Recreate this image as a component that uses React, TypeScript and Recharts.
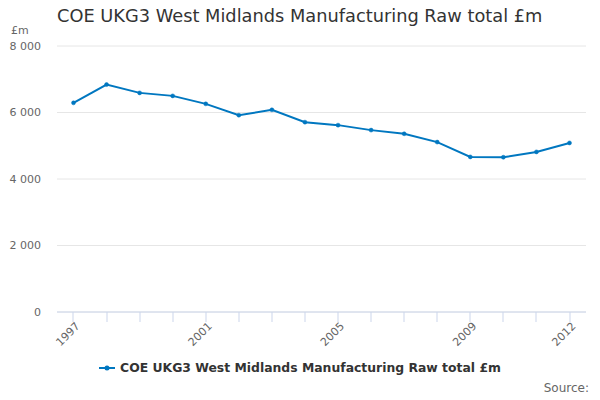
import { LineChart, Line, XAxis, YAxis, CartesianGrid, Legend } from "recharts"

const years = [
  "1997", "1998", "1999", "2000", "2001", "2002", "2003", "2004",
  "2005", "2006", "2007", "2008", "2009", "2010", "2011", "2012",
]
const rawTotal = [
  6290, 6840, 6590, 6500, 6260, 5920, 6080, 5710,
  5620, 5470, 5360, 5110, 4665, 4655, 4815, 5085,
]
const yTicks = [0, 2000, 4000, 6000, 8000]
const shownYears = ["1997", "2001", "2005", "2009", "2012"]

const seriesName = "COE UKG3 West Midlands Manufacturing Raw total £m"
const lineColor = "#0077c0"
const axisColor = "#ccd6eb"
const font = "'DejaVu Sans', Verdana, sans-serif"

const data = years.map((year, i) => ({ year, value: rawTotal[i] }))

const fmt = (v: number) => v.toLocaleString("en-US").replace(/,/g, " ")

// tick mark for every year, label only for a few
function YearTick({ x, y, payload }: any) {
  const shown = shownYears.includes(payload.value)
  return (
    <g>
      <rect x={Math.round(x) - 0.5} y={y - 12} width={1} height={10} fill={axisColor} />
      {shown && (
        <text
          x={0}
          y={0}
          dy={4}
          textAnchor="end"
          transform={`translate(${x + 4},${y}) rotate(-45)`}
          fill="#666"
          fontSize={11}
          fontFamily={font}
        >
          {payload.value}
        </text>
      )}
    </g>
  )
}

function LegendBox() {
  return (
    <div
      style={{
        display: "flex",
        justifyContent: "center",
        alignItems: "center",
        fontFamily: font,
        fontSize: 12.4,
        fontWeight: "bold",
        color: "#333",
        marginLeft: 14,
      }}
    >
      <svg width={16} height={10} style={{ marginRight: 5 }}>
        <line x1={0} y1={5} x2={16} y2={5} stroke={lineColor} strokeWidth={2} />
        <circle cx={8} cy={5} r={2.5} fill={lineColor} />
      </svg>
      {seriesName}
    </div>
  )
}

export default function App() {
  return (
    <div style={{ position: "absolute", left: 0, top: 0, width: 600, height: 400, background: "#fff" }}>
      <div
        style={{
          position: "absolute",
          left: 57,
          top: 5,
          fontFamily: font,
          fontSize: 17.8,
          color: "#333",
          whiteSpace: "nowrap",
        }}
      >
        {seriesName}
      </div>
      <div style={{ position: "absolute", left: 11, top: 24, fontFamily: font, fontSize: 11, color: "#666" }}>
        £m
      </div>
      <div style={{ position: "absolute", right: 11, top: 381, fontFamily: font, fontSize: 12, color: "#666" }}>
        Source:
      </div>
      <LineChart
        width={600}
        height={400}
        data={data}
        margin={{ top: 46, right: 14, bottom: 14, left: 0 }}
      >
        <CartesianGrid vertical={false} stroke="#e6e6e6" />
        <XAxis
          dataKey="year"
          interval={0}
          padding={{ left: 16.5, right: 16.5 }}
          height={48}
          stroke={axisColor}
          tickLine={false}
          tickSize={10}
          tick={<YearTick />}
        />
        <YAxis
          width={57}
          domain={[0, 8000]}
          ticks={yTicks}
          tickFormatter={fmt}
          axisLine={false}
          tickLine={false}
          tickSize={0}
          tickMargin={16}
          tick={{ fill: "#666", fontSize: 11, fontFamily: font }}
        />
        <Legend verticalAlign="bottom" height={26} content={() => <LegendBox />} />
        <Line
          dataKey="value"
          name={seriesName}
          stroke={lineColor}
          strokeWidth={2}
          dot={{ r: 2, fill: lineColor, stroke: lineColor, strokeWidth: 0.5 }}
          isAnimationActive={false}
        />
      </LineChart>
    </div>
  )
}
